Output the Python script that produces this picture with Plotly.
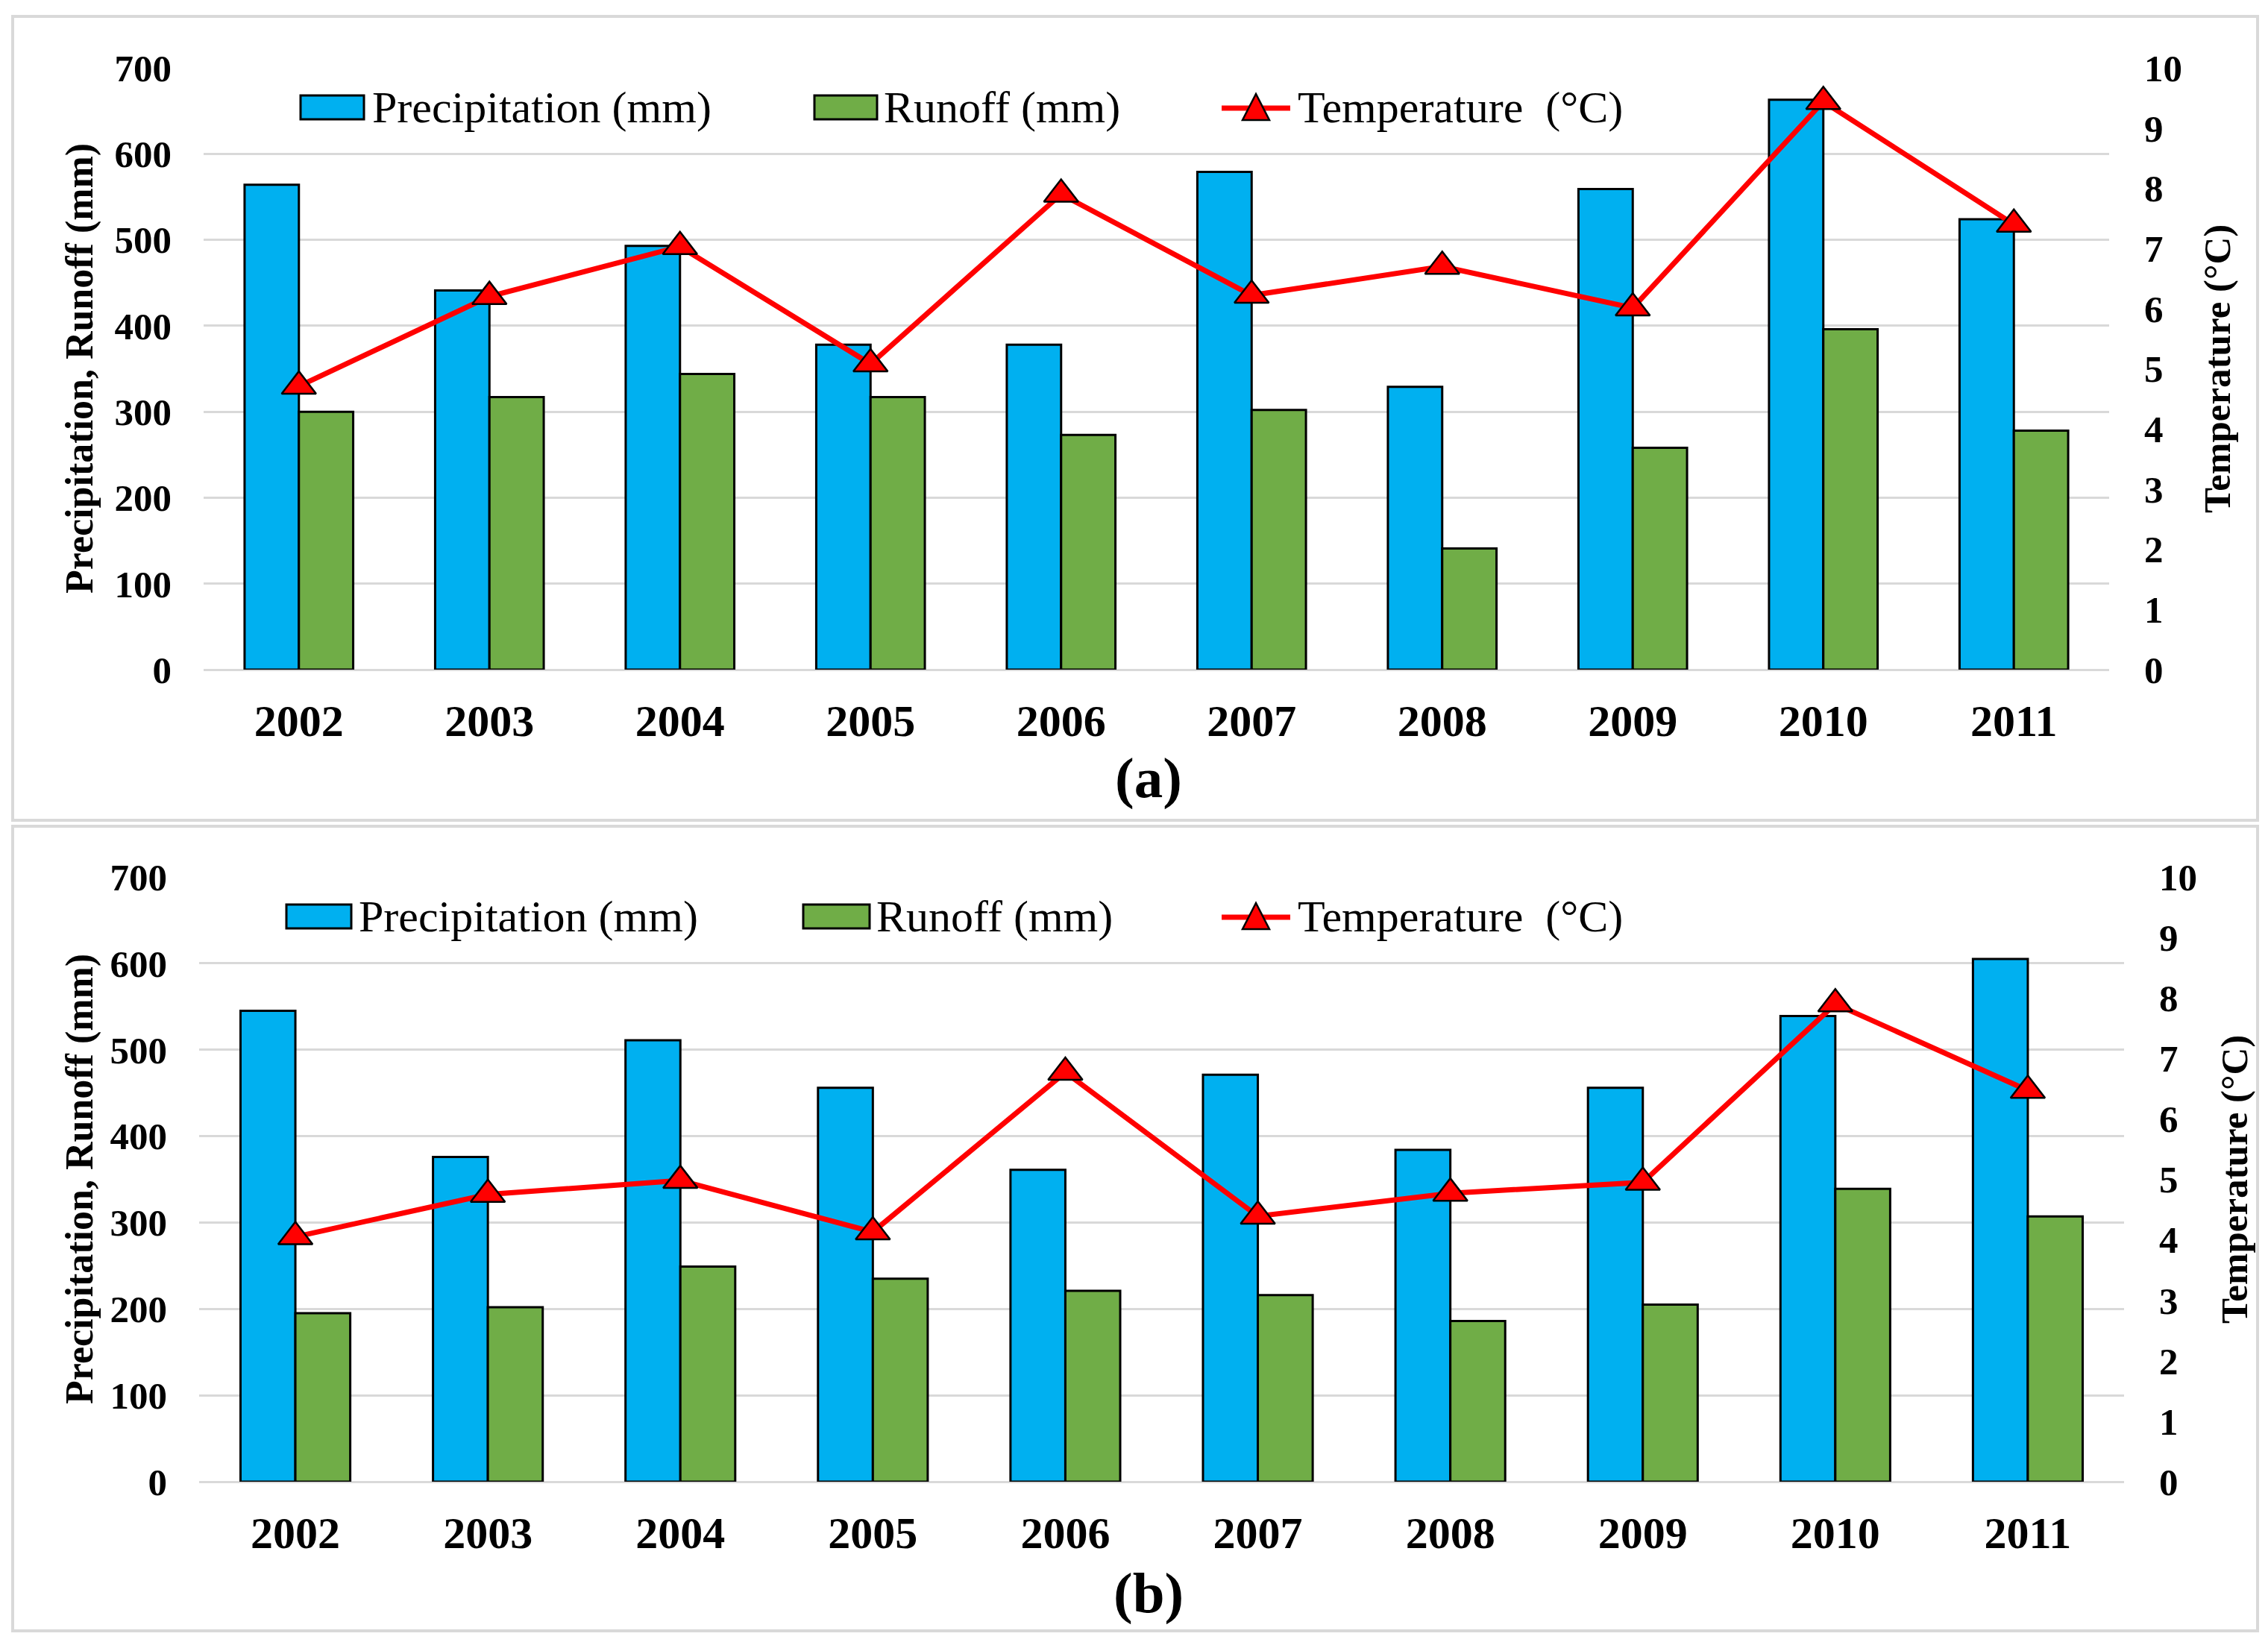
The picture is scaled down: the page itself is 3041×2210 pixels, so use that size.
import plotly.graph_objects as go

# ---------------- data ----------------
years = ["2002", "2003", "2004", "2005", "2006", "2007", "2008", "2009", "2010", "2011"]

precip_a = [564, 441, 493, 378, 378, 579, 329, 559, 663, 524]
runoff_a = [300, 317, 344, 317, 273, 302, 141, 258, 396, 278]
temp_a = [4.71, 6.20, 7.03, 5.08, 7.90, 6.22, 6.70, 6.01, 9.44, 7.40]

precip_b = [545, 376, 511, 456, 361, 471, 384, 456, 539, 605]
runoff_b = [195, 202, 249, 235, 221, 216, 186, 205, 339, 307]
temp_b = [4.05, 4.75, 4.98, 4.13, 6.77, 4.39, 4.77, 4.95, 7.90, 6.47]

left_ticks = [0, 100, 200, 300, 400, 500, 600, 700]
right_ticks = [0, 1, 2, 3, 4, 5, 6, 7, 8, 9, 10]

name_p = "Precipitation (mm)"
name_r = "Runoff (mm)"
name_t = "Temperature  (°C)"
left_title = "Precipitation, Runoff (mm)"
right_title = "Temperature (°C)"
panel_labels = ["(a)", "(b)"]

# ---------------- styling / geometry ----------------
W, H = 3025, 2194
OFFX, OFFY = 8, 8


def X(px):
    return (px - OFFX) / W


def Y(py):
    return 1 - (py - OFFY) / H


FONT = "Liberation Serif"
BLUE = "#00B0F0"
GREEN = "#70AD47"
RED = "#FF0000"
GRID = "#D9D9D9"

fig = go.Figure()

panels = [
    dict(p=precip_a, r=runoff_a, t=temp_a, xa="x", ya="y", ya2="y2",
         xdom=(273, 2828), ydom=(898, 91), leg_y=144,
         leg=[(403, 488, 497), (1092, 1176, 1183), (1638, 1730, 1738)],
         ltitle=(107, 494), rtitle=(2973, 495), lab=(1540, 1043)),
    dict(p=precip_b, r=runoff_b, t=temp_b, xa="x2", ya="y3", ya2="y4",
         xdom=(267, 2848), ydom=(1987, 1176), leg_y=1229,
         leg=[(384, 471, 479), (1077, 1166, 1173), (1638, 1730, 1738)],
         ltitle=(107, 1581), rtitle=(2996, 1582), lab=(1540, 2136)),
]

shapes = []
annotations = []

for i, pn in enumerate(panels):
    fig.add_trace(go.Bar(x=years, y=pn["p"], name=name_p, xaxis=pn["xa"], yaxis=pn["ya"],
                         offsetgroup="p", marker=dict(color=BLUE, line=dict(color="black", width=3)),
                         showlegend=False))
    fig.add_trace(go.Bar(x=years, y=pn["r"], name=name_r, xaxis=pn["xa"], yaxis=pn["ya"],
                         offsetgroup="r", marker=dict(color=GREEN, line=dict(color="black", width=3)),
                         showlegend=False))
    fig.add_trace(go.Scatter(x=years, y=pn["t"], name=name_t, xaxis=pn["xa"], yaxis=pn["ya2"],
                             mode="lines+markers", line=dict(color=RED, width=7),
                             marker=dict(symbol="triangle-up", size=40, color=RED,
                                         line=dict(color="black", width=2.5)),
                             showlegend=False))

    xkey = "xaxis" if i == 0 else "xaxis2"
    ykey = "yaxis" if i == 0 else "yaxis3"
    y2key = "yaxis2" if i == 0 else "yaxis4"
    xd = [X(pn["xdom"][0]), X(pn["xdom"][1])]
    yd = [Y(pn["ydom"][0]), Y(pn["ydom"][1])]
    fig.update_layout(**{
        xkey: dict(domain=xd, anchor=pn["ya"], type="category", showgrid=False, showline=False,
                   range=[-0.5, len(years) - 0.5], autorange=False,
                   ticks="", ticklabelstandoff=28, automargin=False,
                   tickfont=dict(family=FONT, size=60, color="black", weight="bold")),
        ykey: dict(domain=yd, anchor=pn["xa"], range=[0, 700], tickvals=left_ticks,
                   showgrid=True, gridcolor=GRID, gridwidth=3, zeroline=True,
                   zerolinecolor=GRID, zerolinewidth=3, showline=False, ticks="",
                   ticklabelstandoff=42, automargin=False,
                   tickfont=dict(family=FONT, size=51, color="black", weight="bold")),
        y2key: dict(domain=yd, anchor=pn["xa"], overlaying=pn["ya"], side="right",
                    range=[0, 10], tickvals=right_ticks, showgrid=False, zeroline=False,
                    showline=False, ticks="", ticklabelstandoff=46, automargin=False,
                    tickfont=dict(family=FONT, size=51, color="black", weight="bold")),
    })

    # panel frame
    top = 22 if i == 0 else 1108
    bot = 1100 if i == 0 else 2187
    shapes.append(dict(type="rect", xref="paper", yref="paper",
                       x0=X(17), x1=X(3027), y0=Y(bot), y1=Y(top),
                       line=dict(color=GRID, width=4), fillcolor="rgba(0,0,0,0)", layer="below"))

    # legend keys
    ly = pn["leg_y"]
    (b0, b1, bt), (g0, g1, gt), (t0, t1, tt) = pn["leg"]
    shapes.append(dict(type="rect", xref="paper", yref="paper", x0=X(b0), x1=X(b1),
                       y0=Y(ly + 16), y1=Y(ly - 16), fillcolor=BLUE,
                       line=dict(color="black", width=3)))
    shapes.append(dict(type="rect", xref="paper", yref="paper", x0=X(g0), x1=X(g1),
                       y0=Y(ly + 16), y1=Y(ly - 16), fillcolor=GREEN,
                       line=dict(color="black", width=3)))
    shapes.append(dict(type="line", xref="paper", yref="paper", x0=X(t0), x1=X(t1),
                       y0=Y(ly + 1), y1=Y(ly + 1), line=dict(color=RED, width=7)))
    cx = (t0 + t1) / 2
    path = "M{:.6f},{:.6f} L{:.6f},{:.6f} L{:.6f},{:.6f} Z".format(
        X(cx - 18), Y(ly + 17), X(cx + 18), Y(ly + 17), X(cx), Y(ly - 18))
    shapes.append(dict(type="path", xref="paper", yref="paper", path=path,
                       fillcolor=RED, line=dict(color="black", width=2.5)))
    for txt, x0 in [(name_p, bt), (name_r, gt), (name_t, tt)]:
        annotations.append(dict(text=txt, xref="paper", yref="paper", x=X(x0), y=Y(ly),
                                xanchor="left", yanchor="middle", showarrow=False,
                                font=dict(family=FONT, size=60, color="black")))

    # axis titles
    annotations.append(dict(text=left_title, xref="paper", yref="paper",
                            x=X(pn["ltitle"][0]), y=Y(pn["ltitle"][1]), textangle=-90,
                            xanchor="center", yanchor="middle", showarrow=False,
                            font=dict(family=FONT, size=52, color="black", weight="bold")))
    annotations.append(dict(text=right_title, xref="paper", yref="paper",
                            x=X(pn["rtitle"][0]), y=Y(pn["rtitle"][1]), textangle=-90,
                            xanchor="center", yanchor="middle", showarrow=False,
                            font=dict(family=FONT, size=51, color="black", weight="bold")))
    annotations.append(dict(text=panel_labels[i], xref="paper", yref="paper",
                            x=X(pn["lab"][0]), y=Y(pn["lab"][1]),
                            xanchor="center", yanchor="middle", showarrow=False,
                            font=dict(family=FONT, size=77, color="black", weight="bold")))

fig.update_layout(width=W, height=H, margin=dict(l=0, r=0, t=0, b=0, autoexpand=False),
                  paper_bgcolor="white", plot_bgcolor="white",
                  barmode="group", bargap=0.43, bargroupgap=0,
                  showlegend=False, shapes=shapes, annotations=annotations)

fig.write_html("out.html")
